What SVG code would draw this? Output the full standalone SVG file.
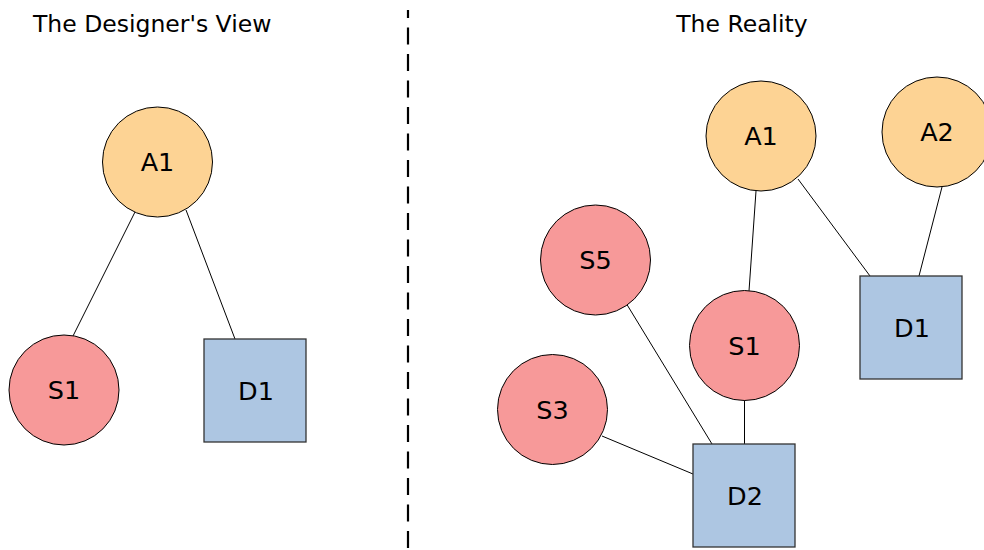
<svg xmlns="http://www.w3.org/2000/svg" width="984" height="550" viewBox="0 0 984 550">
  <style>
    text { font-family: "DejaVu Sans", sans-serif; fill: #000; }
    .title { font-size: 23.5px; }
    .label { font-size: 25.5px; text-anchor: middle; }
    .app { fill: #fdd394; stroke: #000; stroke-width: 1; }
    .svc { fill: #f79999; stroke: #000; stroke-width: 1; }
    .db { fill: #adc6e2; stroke: #333; stroke-width: 1.3; }
    .edges line { stroke: #000; stroke-width: 1; }
    .divider { stroke: #000; stroke-width: 2.2; stroke-dasharray: 17 9.5; }
  </style>
  <rect width="984" height="550" fill="#fff"/>

  <text class="title" x="33" y="32">The Designer's View</text>
  <text class="title" x="742" y="32" text-anchor="middle">The Reality</text>

  <line class="divider" x1="408" y1="10" x2="408" y2="560" stroke-dashoffset="9"/>

  <g class="edges">
    <line x1="135" y1="212" x2="72" y2="338"/>
    <line x1="186" y1="210" x2="235" y2="339"/>
    <line x1="756" y1="191" x2="749" y2="291"/>
    <line x1="798" y1="179" x2="870" y2="276"/>
    <line x1="942" y1="187" x2="919" y2="276"/>
    <line x1="626" y1="303" x2="712" y2="444"/>
    <line x1="744.5" y1="400" x2="744.5" y2="444"/>
    <line x1="602" y1="436" x2="693" y2="474"/>
  </g>

  <g id="left-a1">
    <circle class="app" cx="157.5" cy="162" r="55"/>
    <text class="label" x="157.5" y="171">A1</text>
  </g>
  <g id="left-s1">
    <circle class="svc" cx="64" cy="390" r="55"/>
    <text class="label" x="64" y="399">S1</text>
  </g>
  <g id="left-d1">
    <rect class="db" x="204" y="339" width="102" height="103"/>
    <text class="label" x="256" y="400">D1</text>
  </g>

  <g id="right-a1">
    <circle class="app" cx="761" cy="136" r="55"/>
    <text class="label" x="761" y="145">A1</text>
  </g>
  <g id="right-a2">
    <circle class="app" cx="937" cy="132" r="55"/>
    <text class="label" x="937" y="141">A2</text>
  </g>
  <g id="right-s5">
    <circle class="svc" cx="595.5" cy="260" r="55"/>
    <text class="label" x="595.5" y="269">S5</text>
  </g>
  <g id="right-s1">
    <circle class="svc" cx="744.5" cy="345.5" r="55"/>
    <text class="label" x="744.5" y="354.5">S1</text>
  </g>
  <g id="right-s3">
    <circle class="svc" cx="552.5" cy="409.5" r="55"/>
    <text class="label" x="552.5" y="418.5">S3</text>
  </g>
  <g id="right-d1">
    <rect class="db" x="860" y="276" width="102" height="103"/>
    <text class="label" x="912" y="337">D1</text>
  </g>
  <g id="right-d2">
    <rect class="db" x="693" y="444" width="102" height="103"/>
    <text class="label" x="745" y="505">D2</text>
  </g>
</svg>
